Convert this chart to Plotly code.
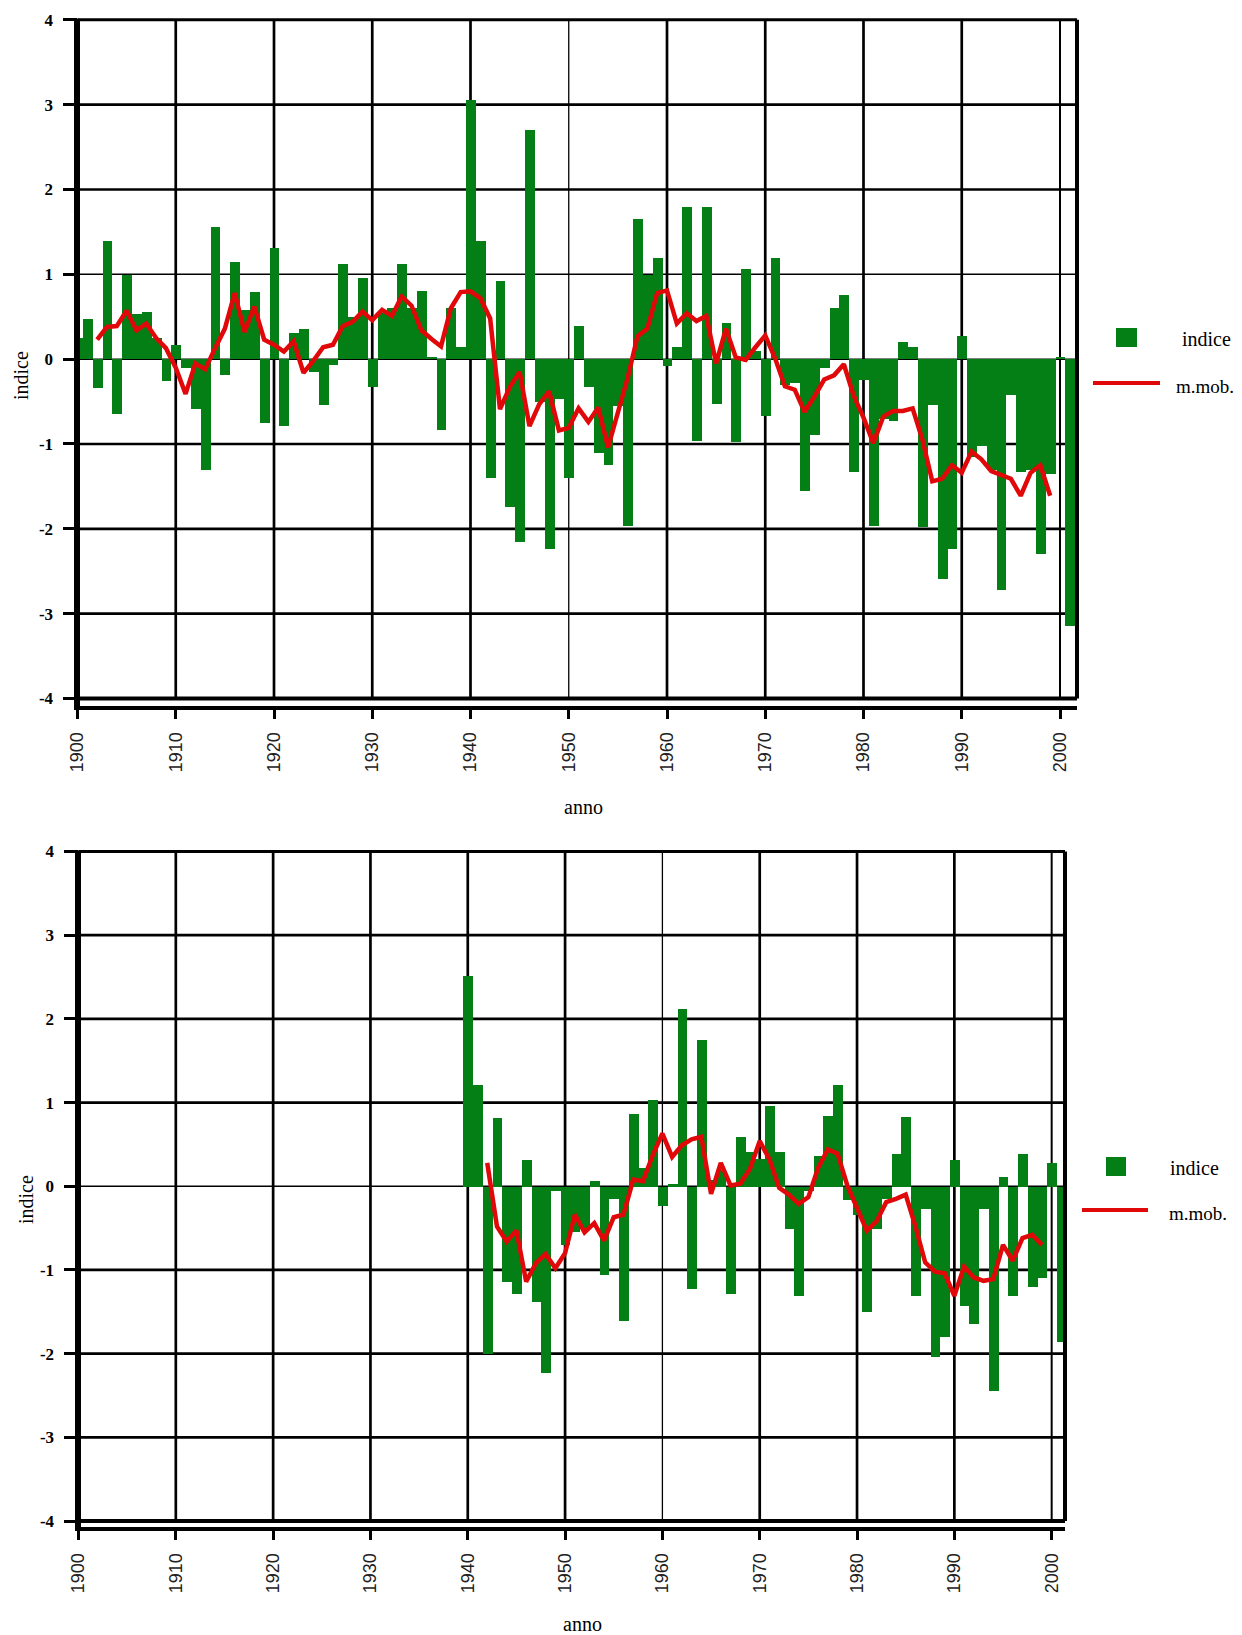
import plotly.graph_objects as go

# ---------------- data ----------------
years_top = list(range(1900, 2002))
indice_top = [
    0.25, 0.47, -0.34, 1.40, -0.64, 1.00, 0.53, 0.56, 0.25, -0.25,   # 1900-1909
    0.17, -0.10, -0.58, -1.30, 1.56, -0.18, 1.15, 0.58, 0.79, -0.75,  # 1910-1919
    1.31, -0.79, 0.31, 0.36, -0.15, -0.54, -0.07, 1.12, 0.50, 0.96,   # 1920-1929
    -0.33, 0.55, 0.60, 1.12, 0.60, 0.81, 0.03, -0.83, 0.60, 0.15,     # 1930-1939
    3.06, 1.40, -1.40, 0.92, -1.74, -2.15, 2.70, -0.50, -2.24, -0.47, # 1940-1949
    -1.40, 0.39, -0.33, -1.10, -1.24, -0.55, -1.97, 1.65, 1.00, 1.20, # 1950-1959
    -0.08, 0.15, 1.80, -0.96, 1.80, -0.53, 0.43, -0.98, 1.07, 0.10,   # 1960-1969
    -0.67, 1.20, -0.30, -0.28, -1.55, -0.89, -0.10, 0.60, 0.76, -1.33, # 1970-1979
    -0.24, -1.96, -0.70, -0.73, 0.21, 0.15, -1.98, -0.54, -2.59, -2.24, # 1980-1989
    0.28, -1.15, -1.02, -1.30, -2.72, -0.42, -1.33, -1.30, -2.29, -1.35, # 1990-1999
    0.03, -3.14,                                                      # 2000-2001
]
mm_years_top = list(range(1902, 2000))
mmob_top = [
    0.23, 0.38, 0.39, 0.57, 0.34, 0.42, 0.25, 0.13,                   # 1902-1909
    -0.10, -0.41, -0.05, -0.12, 0.13, 0.36, 0.78, 0.32, 0.62, 0.23,   # 1910-1919
    0.17, 0.09, 0.21, -0.16, -0.02, 0.14, 0.17, 0.39, 0.44, 0.56,     # 1920-1929
    0.46, 0.58, 0.51, 0.74, 0.63, 0.34, 0.24, 0.15, 0.60, 0.79,       # 1930-1939
    0.80, 0.72, 0.48, -0.59, -0.33, -0.15, -0.79, -0.53, -0.38, -0.84, # 1940-1949
    -0.81, -0.58, -0.74, -0.57, -1.04, -0.64, -0.22, 0.27, 0.36, 0.78, # 1950-1959
    0.81, 0.42, 0.54, 0.45, 0.51, -0.05, 0.36, 0.02, -0.01, 0.14,     # 1960-1969
    0.28, 0.01, -0.32, -0.36, -0.62, -0.44, -0.24, -0.19, -0.06, -0.43, # 1970-1979
    -0.69, -0.99, -0.68, -0.61, -0.61, -0.58, -0.95, -1.44, -1.41, -1.25, # 1980-1989
    -1.34, -1.09, -1.18, -1.32, -1.36, -1.41, -1.61, -1.34, -1.25, -1.61, # 1990-1999
]

years_bot = list(range(1940, 2002))
indice_bot = [
    2.52, 1.22, -2.00, 0.82, -1.14, -1.28, 0.32, -1.38, -2.22, -0.05, # 1940-1949
    -0.70, -0.54, -0.50, 0.07, -1.06, -0.15, -1.60, 0.87, 0.22, 1.04, # 1950-1959
    -0.23, 0.03, 2.12, -1.22, 1.75, 0.08, 0.20, -1.28, 0.60, 0.41,    # 1960-1969
    0.33, 0.96, 0.42, -0.51, -1.30, -0.05, 0.37, 0.84, 1.22, -0.16,   # 1970-1979
    -0.34, -1.50, -0.50, -0.15, 0.39, 0.83, -1.30, -0.27, -2.03, -1.80, # 1980-1989
    0.32, -1.42, -1.64, -0.27, -2.44, 0.12, -1.30, 0.39, -1.20, -1.09, # 1990-1999
    0.28, -1.86,                                                      # 2000-2001
]
mm_years_bot = list(range(1942, 2000))
mmob_bot = [
    0.28, -0.48, -0.66, -0.53, -1.14, -0.92, -0.81, -0.98,            # 1942-1949
    -0.80, -0.34, -0.55, -0.44, -0.65, -0.37, -0.34, 0.08, 0.06, 0.37, # 1950-1959
    0.63, 0.35, 0.49, 0.56, 0.59, -0.09, 0.28, 0.01, 0.03, 0.21,      # 1960-1969
    0.54, 0.32, -0.02, -0.10, -0.21, -0.13, 0.22, 0.44, 0.39, 0.01,   # 1970-1979
    -0.26, -0.53, -0.42, -0.19, -0.15, -0.10, -0.48, -0.91, -1.02, -1.04, # 1980-1989
    -1.31, -0.96, -1.09, -1.13, -1.11, -0.70, -0.89, -0.62, -0.58, -0.70, # 1990-1999
]

decades = [1900, 1910, 1920, 1930, 1940, 1950, 1960, 1970, 1980, 1990, 2000]
decade_labels = [str(d) for d in decades]
y_ticks = [-4, -3, -2, -1, 0, 1, 2, 3, 4]
y_labels = [str(v) for v in y_ticks]

# ---------------- styling ----------------
W, H = 1242, 1635
OFF = 8  # default page margin around the plot div
GREEN = "#047F15"
RED = "#E00808"
SERIF = "Liberation Serif"
SANS = "Liberation Sans"


def fx(p):
    return (p - OFF) / W


def fy(p):
    return 1 - (p - OFF) / H


panels = [
    dict(years=years_top, vals=indice_top, myears=mm_years_top, mvals=mmob_top,
         left=77.5, right=1077, ytop=19.8, ybot=698.5, axis=708, xmax=2001.73,
         thin_x=[1950], mid_x=[2000], thin_y=[0, 1],
         ytitle=(21, 376), xtitle=(583, 807),
         leg_sq=(1116, 328, 1137, 347), leg_t1=(1180, 339),
         leg_ln=(1093, 1160, 383), leg_t2=(1174, 386)),
    dict(years=years_bot, vals=indice_bot, myears=mm_years_bot, mvals=mmob_bot,
         left=78.5, right=1065, ytop=851.5, ybot=1521, axis=1529, xmax=2001.37,
         thin_x=[1960], mid_x=[2000], thin_y=[0],
         ytitle=(26, 1200), xtitle=(582, 1624),
         leg_sq=(1106, 1157, 1126, 1176), leg_t1=(1168, 1168),
         leg_ln=(1082, 1148, 1210), leg_t2=(1167, 1213)),
]

fig = go.Figure()
shapes = []
annotations = []
layout_axes = {}

for i, p in enumerate(panels):
    n = "" if i == 0 else str(i + 1)
    xa, ya = "x" + n, "y" + n
    fig.add_trace(go.Bar(x=p["years"], y=p["vals"], width=1.0, name="indice",
                         marker=dict(color=GREEN, line=dict(width=0)),
                         xaxis=xa, yaxis=ya, showlegend=False))
    fig.add_trace(go.Scatter(x=p["myears"], y=p["mvals"], mode="lines", name="m.mob.",
                             line=dict(color=RED, width=4.5),
                             xaxis=xa, yaxis=ya, showlegend=False))

    layout_axes["xaxis" + n] = dict(
        domain=[fx(p["left"]), fx(p["right"])], range=[1900, p["xmax"]],
        anchor="free", position=fy(p["axis"]), automargin=False,
        tickmode="array", tickvals=decades, ticktext=decade_labels,
        tickangle=-90, ticks="outside", ticklen=9, tickwidth=3, tickcolor="black",
        ticklabelstandoff=6,
        showline=True, linewidth=4, linecolor="black",
        showgrid=False, zeroline=False,
        tickfont=dict(family=SANS, size=18, color="#222222"),
    )
    layout_axes["yaxis" + n] = dict(
        domain=[fy(p["ybot"]), fy(p["ytop"])], range=[-4, 4], anchor=xa,
        automargin=False,
        tickmode="array", tickvals=y_ticks, ticktext=y_labels,
        ticks="outside", ticklen=14, tickwidth=2.5, tickcolor="black",
        ticklabelstandoff=6,
        showline=False, showgrid=False, zeroline=False,
        tickfont=dict(family=SERIF, size=17, color="black", weight="bold"),
    )

    # grid lines (data coordinates)
    for d in decades[1:]:
        w = 1.3 if d in p["thin_x"] else (2.0 if d in p["mid_x"] else 2.7)
        shapes.append(dict(type="line", xref=xa, yref=ya, x0=d, x1=d, y0=-4, y1=4,
                           line=dict(color="black", width=w), layer="below"))
    for v in y_ticks[1:-1]:
        w = 1.5 if v in p["thin_y"] else 2.7
        shapes.append(dict(type="line", xref=xa, yref=ya, x0=1900, x1=p["xmax"], y0=v, y1=v,
                           line=dict(color="black", width=w), layer="below"))

    # frame
    L, R, T, B = p["left"], p["right"], p["ytop"], p["ybot"]
    shapes.append(dict(type="line", xref="paper", yref="paper", x0=fx(L), x1=fx(R),
                       y0=fy(T), y1=fy(T), line=dict(color="black", width=3)))
    shapes.append(dict(type="line", xref="paper", yref="paper", x0=fx(L), x1=fx(R),
                       y0=fy(B), y1=fy(B), line=dict(color="black", width=4)))
    shapes.append(dict(type="line", xref="paper", yref="paper", x0=fx(R), x1=fx(R),
                       y0=fy(T), y1=fy(B), line=dict(color="black", width=4)))
    shapes.append(dict(type="line", xref="paper", yref="paper", x0=fx(L - 0.5), x1=fx(L - 0.5),
                       y0=fy(T - 1), y1=fy(p["axis"] + 2), line=dict(color="black", width=6)))

    # axis titles
    tx, ty = p["ytitle"]
    annotations.append(dict(text="indice", x=fx(tx), y=fy(ty), xref="paper", yref="paper",
                            xanchor="center", yanchor="middle",
                            showarrow=False, textangle=-90,
                            font=dict(family=SERIF, size=20, color="black")))
    tx, ty = p["xtitle"]
    annotations.append(dict(text="anno", x=fx(tx), y=fy(ty), xref="paper", yref="paper",
                            xanchor="center", yanchor="middle", showarrow=False,
                            font=dict(family=SERIF, size=20, color="black")))

    # legend
    x0, y0, x1, y1 = p["leg_sq"]
    shapes.append(dict(type="rect", xref="paper", yref="paper", x0=fx(x0), x1=fx(x1),
                       y0=fy(y1), y1=fy(y0), fillcolor=GREEN, line=dict(width=0)))
    lx0, lx1, ly = p["leg_ln"]
    shapes.append(dict(type="line", xref="paper", yref="paper", x0=fx(lx0), x1=fx(lx1),
                       y0=fy(ly), y1=fy(ly), line=dict(color=RED, width=4)))
    tx, ty = p["leg_t1"]
    annotations.append(dict(text="indice", x=fx(tx), y=fy(ty), xref="paper", yref="paper",
                            xanchor="left", yanchor="middle", showarrow=False,
                            font=dict(family=SERIF, size=20, color="black")))
    tx, ty = p["leg_t2"]
    annotations.append(dict(text="m.mob.", x=fx(tx), y=fy(ty), xref="paper", yref="paper",
                            xanchor="left", yanchor="middle", showarrow=False,
                            font=dict(family=SERIF, size=19, color="black")))

fig.update_layout(
    width=W, height=H, autosize=False,
    margin=dict(l=0, r=0, t=0, b=0, pad=0, autoexpand=False),
    paper_bgcolor="white", plot_bgcolor="white",
    bargap=0, barmode="overlay",
    shapes=shapes, annotations=annotations,
    showlegend=False,
    **layout_axes,
)

fig.write_html("out.html")
